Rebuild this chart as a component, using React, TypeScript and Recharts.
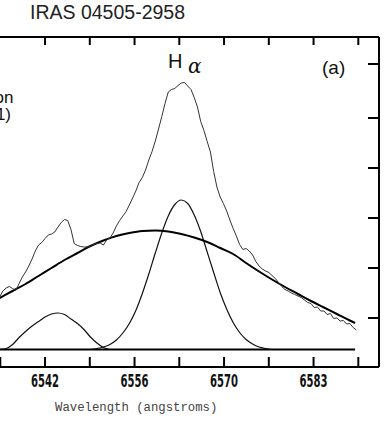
import { LineChart, Line, XAxis, YAxis, ReferenceLine } from 'recharts';

// wavelength axis (angstroms) and flux axis (arbitrary units)
// the plot's left side is cropped in the reference, so the domain starts off-screen
const X_DOMAIN = [6528.89, 6593.49];
const X_TICKS = [6528.2, 6535.1, 6542, 6548.9, 6555.8, 6562.7, 6569.6, 6576.5, 6583.4, 6590.3];
const X_TICK_LABELS = ['', '', '6542', '', '6556', '', '6570', '', '6583', ''];
const TOP_TICKS = [6542, 6548.9, 6555.8, 6562.7, 6569.6, 6576.5, 6583.4, 6590.3];
const Y_DOMAIN = [0.02, 6.62];
const Y_TICKS = [1, 2, 3, 4, 5, 6.08];

// observed spectrum
const OBS_WL = [
  6535, 6535.5, 6536, 6536.5, 6537, 6537.5, 6538, 6538.5, 6539, 6539.5,
  6540, 6540.5, 6541, 6541.5, 6542, 6542.5, 6543, 6543.5, 6544, 6544.5,
  6545, 6545.5, 6546, 6546.5, 6547, 6547.5, 6548, 6548.5, 6549, 6549.5,
  6550, 6550.5, 6551, 6551.5, 6552, 6552.5, 6553, 6553.5, 6554, 6554.5,
  6555, 6555.5, 6556, 6556.5, 6557, 6557.5, 6558, 6558.5, 6559, 6559.5,
  6560, 6560.5, 6561, 6561.5, 6562, 6562.5, 6563, 6563.5, 6564, 6564.5,
  6565, 6565.5, 6566, 6566.5, 6567, 6567.5, 6568, 6568.5, 6569, 6569.5,
  6570, 6570.5, 6571, 6571.5, 6572, 6572.5, 6573, 6573.5, 6574, 6574.5,
  6575, 6575.5, 6576, 6576.5, 6577, 6577.5, 6578, 6578.5, 6579, 6579.5,
  6580, 6580.5, 6581, 6581.5, 6582, 6582.5, 6583, 6583.5, 6584, 6584.5,
  6585, 6585.5, 6586, 6586.5, 6587, 6587.5, 6588, 6588.5, 6589, 6589.5, 6590,
];
const OBS_FLUX = [
  1.42, 1.54, 1.6, 1.63, 1.59, 1.55, 1.69, 1.82, 1.92, 2.04,
  2.18, 2.34, 2.46, 2.51, 2.59, 2.66, 2.68, 2.72, 2.82, 2.91,
  2.97, 2.95, 2.77, 2.49, 2.45, 2.43, 2.42, 2.42, 2.43, 2.47,
  2.49, 2.5, 2.46, 2.56, 2.6, 2.7, 2.84, 2.95, 3.04, 3.13,
  3.26, 3.4, 3.54, 3.71, 3.81, 3.96, 4.16, 4.33, 4.54, 4.78,
  5.03, 5.29, 5.52, 5.57, 5.59, 5.65, 5.7, 5.71, 5.64, 5.57,
  5.41, 5.22, 4.93, 4.75, 4.53, 4.32, 3.93, 3.62, 3.42, 3.29,
  3.14, 2.96, 2.79, 2.64, 2.47, 2.37, 2.39, 2.34, 2.26, 2.13,
  2.04, 1.98, 1.94, 1.91, 1.85, 1.79, 1.71, 1.63, 1.57, 1.54,
  1.5, 1.47, 1.44, 1.41, 1.36, 1.31, 1.29, 1.21, 1.22, 1.14,
  1.14, 1.07, 1.09, 0.99, 1.0, 0.94, 0.95, 0.88, 0.89, 0.81, 0.76,
];

// broad component
const BROAD_WL = [
  6535, 6537, 6539, 6541, 6543, 6545, 6547, 6549, 6551, 6553, 6555, 6557, 6559, 6561, 6563,
  6565, 6567, 6569, 6571, 6573, 6575, 6577, 6579, 6581, 6583, 6585, 6587, 6589, 6589.8,
];
const BROAD_FLUX = [
  1.4, 1.54, 1.68, 1.84, 2.0, 2.16, 2.3, 2.44, 2.55, 2.64, 2.7, 2.74, 2.75, 2.73, 2.68,
  2.61, 2.52, 2.4, 2.28, 2.1, 1.93, 1.77, 1.62, 1.48, 1.34, 1.21, 1.08, 0.95, 0.9,
];

// narrow H-alpha component
const HA_WL = [
  6549, 6550, 6551, 6552, 6553, 6554, 6555, 6556, 6557, 6558, 6559, 6560, 6561, 6562, 6563,
  6564, 6565, 6566, 6567, 6568, 6569, 6570, 6571, 6572, 6573, 6574, 6575, 6576, 6577,
];
const HA_FLUX = [
  0.37, 0.39, 0.42, 0.47, 0.56, 0.7, 0.89, 1.15, 1.49, 1.88, 2.3, 2.7, 3.04, 3.27, 3.36,
  3.29, 3.06, 2.73, 2.32, 1.91, 1.51, 1.18, 0.91, 0.71, 0.57, 0.48, 0.42, 0.39, 0.37,
];

// small [NII] component
const NII_WL = [
  6535, 6536, 6537, 6538, 6539, 6540, 6541, 6542, 6543, 6544, 6545, 6546, 6547, 6548, 6549,
  6550, 6551, 6552,
];
const NII_FLUX = [
  0.37, 0.39, 0.47, 0.61, 0.73, 0.84, 0.93, 1.02, 1.08, 1.1, 1.07, 0.98, 0.89, 0.77, 0.62,
  0.5, 0.41, 0.37,
];

const BASELINE = 0.37;
const BASELINE_RANGE = [6535, 6589.8];

const toRows = (wl: number[], flux: number[]) => wl.map((w, i) => ({ wl: w, v: flux[i] }));

const obsData = toRows(OBS_WL, OBS_FLUX);
const broadData = toRows(BROAD_WL, BROAD_FLUX);
const haData = toRows(HA_WL, HA_FLUX);
const niiData = toRows(NII_WL, NII_FLUX);

const tickLabel = (value: number) => X_TICK_LABELS[X_TICKS.indexOf(value)] || '';

function BottomTick({ x, y, payload }: any) {
  const label = tickLabel(payload.value);
  return (
    <g>
      <line x1={x} y1={y} x2={x} y2={y - 10} stroke="#000" strokeWidth={2} />
      {label && (
        <text
          x={x}
          y={y + 20}
          textAnchor="middle"
          fontFamily="'Liberation Sans Narrow', 'DejaVu Sans Condensed', sans-serif"
          fontWeight="bold"
          fontSize={17}
          textLength={28}
          lengthAdjust="spacingAndGlyphs"
          fill="#111"
        >
          {label}
        </text>
      )}
    </g>
  );
}

function TopTick({ x, y }: any) {
  return <line x1={x} y1={y} x2={x} y2={y + 8} stroke="#000" strokeWidth={2} />;
}

function RightTick({ x, y }: any) {
  return <line x1={x - 11} y1={y} x2={x} y2={y} stroke="#000" strokeWidth={2} />;
}

const SANS = "'Liberation Sans', Arial, sans-serif";

export default function App() {
  return (
    <div
      style={{
        position: 'absolute',
        left: 0,
        top: 0,
        width: 388,
        height: 425,
        overflow: 'hidden',
        background: '#fff',
      }}
    >
      <div style={{ position: 'absolute', left: -40, top: 0 }}>
        <LineChart width={428} height={425} margin={{ top: 27, right: 0, bottom: 0, left: 0 }}>
          <XAxis
            xAxisId="b"
            type="number"
            dataKey="wl"
            domain={X_DOMAIN}
            ticks={X_TICKS}
            interval={0}
            allowDataOverflow
            height={58}
            axisLine={{ stroke: '#000', strokeWidth: 2 }}
            tickLine={false}
            tickSize={0}
            tickMargin={0}
            tick={<BottomTick />}
          />
          <XAxis
            xAxisId="t"
            orientation="top"
            type="number"
            dataKey="wl"
            domain={X_DOMAIN}
            ticks={TOP_TICKS}
            interval={0}
            allowDataOverflow
            height={10}
            axisLine={{ stroke: '#000', strokeWidth: 2 }}
            tickLine={false}
            tickSize={0}
            tickMargin={0}
            tick={<TopTick />}
          />
          <YAxis
            yAxisId="r"
            orientation="right"
            type="number"
            domain={Y_DOMAIN}
            ticks={Y_TICKS}
            interval={0}
            allowDataOverflow
            width={9}
            axisLine={{ stroke: '#000', strokeWidth: 2 }}
            tickLine={false}
            tickSize={0}
            tickMargin={0}
            tick={<RightTick />}
          />
          <ReferenceLine
            xAxisId="b"
            yAxisId="r"
            segment={[
              { x: BASELINE_RANGE[0], y: BASELINE },
              { x: BASELINE_RANGE[1], y: BASELINE },
            ]}
            stroke="#000"
            strokeWidth={2}
          />
          <Line
            xAxisId="b"
            yAxisId="r"
            data={niiData}
            dataKey="v"
            type="monotone"
            stroke="#111"
            strokeWidth={1.2}
            dot={false}
            isAnimationActive={false}
          />
          <Line
            xAxisId="b"
            yAxisId="r"
            data={haData}
            dataKey="v"
            type="monotone"
            stroke="#111"
            strokeWidth={1.2}
            dot={false}
            isAnimationActive={false}
          />
          <Line
            xAxisId="b"
            yAxisId="r"
            data={broadData}
            dataKey="v"
            type="monotone"
            stroke="#000"
            strokeWidth={2}
            dot={false}
            isAnimationActive={false}
          />
          <Line
            xAxisId="b"
            yAxisId="r"
            data={obsData}
            dataKey="v"
            type="linear"
            stroke="#333"
            strokeWidth={1}
            dot={false}
            isAnimationActive={false}
          />
        </LineChart>
      </div>
      <svg
        width={388}
        height={425}
        style={{ position: 'absolute', left: 0, top: 0, pointerEvents: 'none' }}
      >
        <text x={30} y={19} fontFamily={SANS} fontSize={19.5} fill="#222">
          IRAS 04505-2958
        </text>
        <text x={168} y={68} fontFamily={SANS} fontSize={20} fill="#111">
          H
        </text>
        <text x={188} y={73} fontFamily="'DejaVu Serif', serif" fontStyle="italic" fontSize={20} fill="#111">
          α
        </text>
        <text x={322} y={74} fontFamily={SANS} fontSize={19} fill="#111">
          (a)
        </text>
        <text x={13.5} y={103} textAnchor="end" fontFamily={SANS} fontSize={17} fill="#111">
          on
        </text>
        <text x={11} y={120} textAnchor="end" fontFamily={SANS} fontSize={17} fill="#111">
          1)
        </text>
        <text x={55} y={411} fontFamily="'Liberation Mono', 'DejaVu Sans Mono', monospace" fontSize={12.3} fill="#444">
          Wavelength (angstroms)
        </text>
      </svg>
    </div>
  );
}
